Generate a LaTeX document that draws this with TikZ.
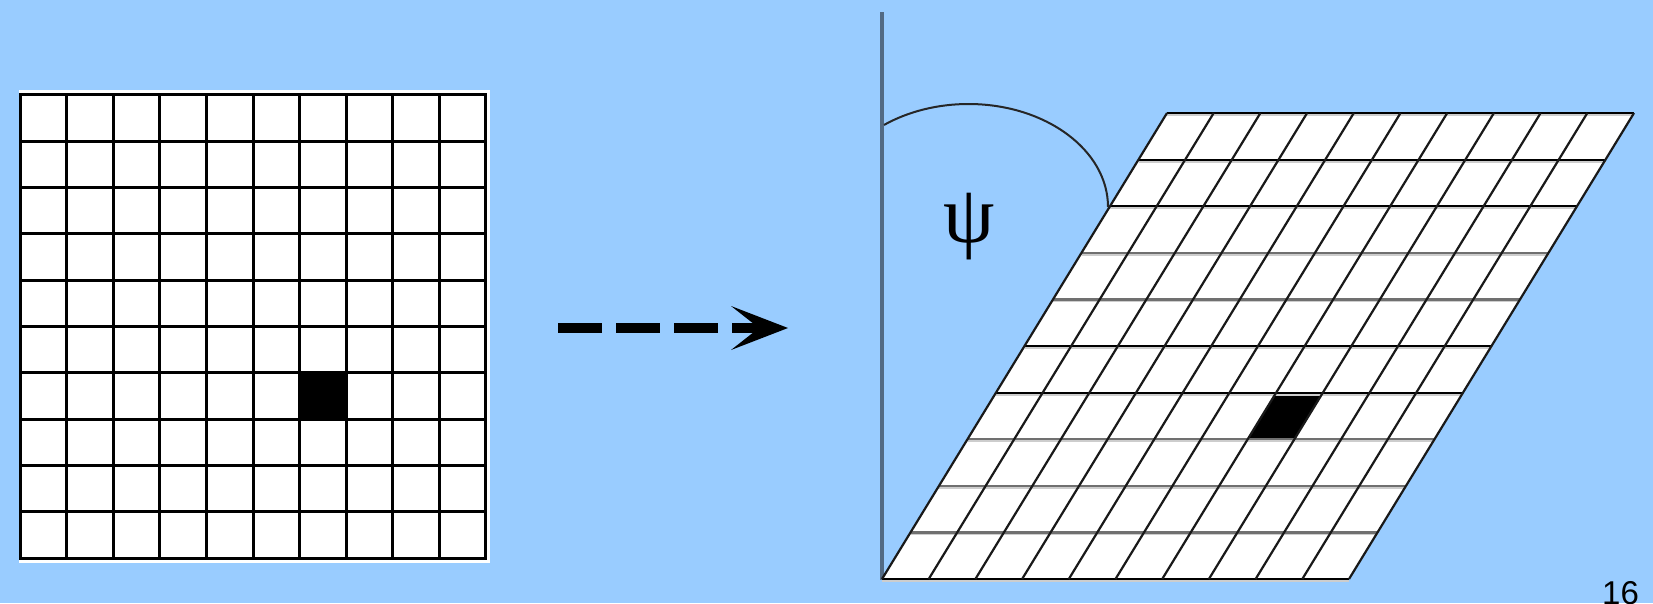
\documentclass[tikz,border=0pt]{standalone}
\usepackage{fontspec}
\usetikzlibrary{arrows.meta}
\newfontfamily\psifont{Liberation Serif}
\newfontfamily\numfont{Liberation Sans}
\definecolor{bgblue}{RGB}{153,204,255}
\definecolor{axisgray}{RGB}{82,106,132}
\definecolor{rowgray}{RGB}{112,112,112}
\definecolor{rowlight}{RGB}{205,205,205}
\tikzset{
  gridline/.style={line width=3pt, black, line cap=rect},
  skewline/.style={line width=2.2pt, black!90},
  rowdark/.style={line width=2.2pt, black},
  rowgrey/.style={line width=2.2pt, rowgray},
  rowshade/.style={line width=2pt, rowlight},
  axisline/.style={line width=4pt, axisgray},
  anglearc/.style={line width=2pt, black!85},
  dasharrow/.style={line width=10pt, dash pattern=on 44pt off 14pt,
    -{Stealth[length=57pt,width=44pt,inset=28pt,line width=0pt]}},
}
\begin{document}
\begin{tikzpicture}[x=1pt,y=-1pt]
\fill[bgblue] (0,0) rectangle (1653,603);
\useasboundingbox (0,0) rectangle (1653,603);

% left square grid
\fill[white] (19,90) rectangle (490,563);
\begin{scope}[shift={(20.3,94.7)}, x={(46.55pt,0pt)}, y={(0pt,-46.36pt)}]
  \fill[black] (6,6) rectangle (7,7);
  \foreach \i in {0,...,10} {
    \draw[gridline] (\i,0) -- (\i,10);
    \draw[gridline] (0,\i) -- (10,\i);
  }
\end{scope}

% dashed arrow
\coordinate (arrowstart) at (558,328);
\coordinate (arrowtip) at (788,328);
\draw[dasharrow] (arrowstart) -- (arrowtip);

% vertical axis
\coordinate (axtop) at (882,12);
\coordinate (axbot) at (882,580);
\draw[axisline] (axtop) -- (axbot);

% skewed grid
\begin{scope}[shift={(1167,113)}, x={(46.7pt,0pt)}, y={(-28.5pt,-46.6pt)}]
  \fill[white] (0,0) -- (10,0) -- (10,10) -- (0,10) -- cycle;
  \fill[black] (6,6) -- (7,6) -- (7,7) -- (6,7) -- cycle;
  \foreach \i in {0,...,10} {
    \draw[rowshade] ([yshift=-2pt]0,\i) -- ([yshift=-2pt]10,\i);
  }
  \foreach \i in {0,1,2,5,6,10} {
    \draw[rowdark] (0,\i) -- (10,\i);
  }
  \foreach \i in {3,4,7,8,9} {
    \draw[rowgrey] (0,\i) -- (10,\i);
  }
  \foreach \j in {0,...,10} {
    \draw[skewline] (\j,0) -- (\j,10);
  }
\end{scope}

% angle arc
\coordinate (arcend) at (1108,207);
\draw[anglearc] (arcend) arc[start angle=0, end angle=127.2, x radius=139.6pt, y radius=103pt];

% psi label
\node[inner sep=0pt, font=\psifont\fontsize{82}{82}\selectfont] (psi) at (969,227) {ψ};

% page number
\node[anchor=north west, inner sep=0pt, font=\numfont\fontsize{33}{33}\selectfont] (pagenum) at (1602,581) {16};
\end{tikzpicture}
\end{document}
